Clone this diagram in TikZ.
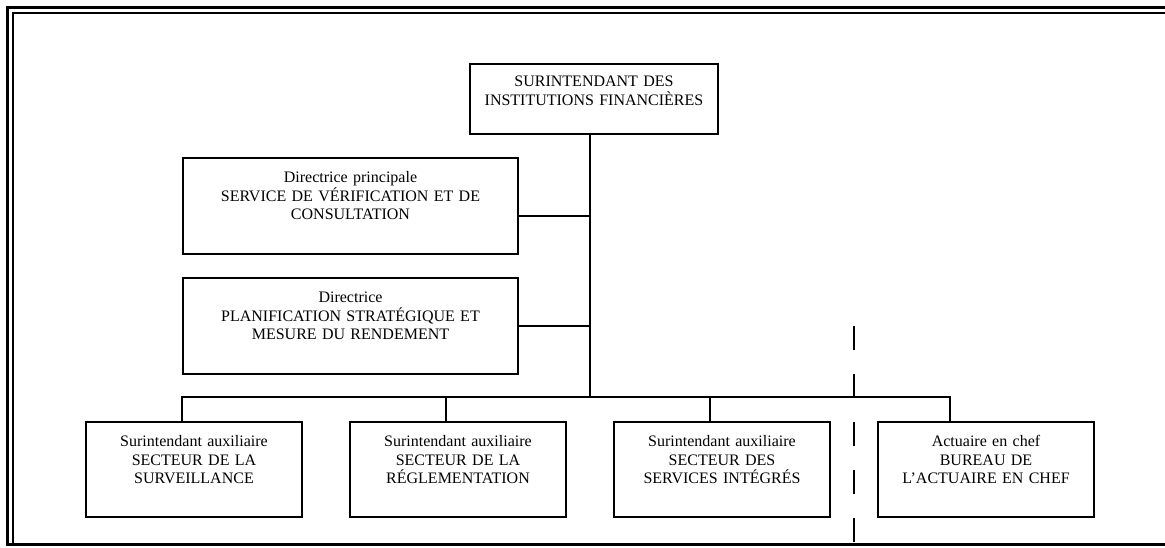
\documentclass[tikz,border=0pt]{standalone}
\usepackage{fontspec}
\setmainfont{Liberation Serif}
\usetikzlibrary{positioning,calc}
\tikzset{
  unitbox/.style = { draw, line width=1.5pt, inner sep=0pt, outer sep=0pt, align=center,
    font=\fontsize{12}{13.8}\selectfont, text height=18.75pt },
  topbox/.style  = { unitbox, anchor=north, text width=186pt, text height=17.25pt, text depth=35.25pt },
  dirbox/.style  = { unitbox, anchor=north, text width=251.25pt, text depth=53.25pt },
  secbox/.style  = { unitbox, anchor=north, text width=162pt, text depth=52.5pt },
  ln/.style      = { line width=1.5pt },
  divider/.style = { line width=1.5pt, dash pattern=on 18pt off 18pt }
}
\begin{document}
\begin{tikzpicture}[x=0.75pt,y=-0.75pt]
    \useasboundingbox (0,0) rectangle (1165,548);
    % frame
    \draw[line width=2.25pt] (7.5,545) -- (7.5,7.5) -- (1165,7.5);
    \draw[line width=1.5pt] (13,545) -- (13,13) -- (1165,13);
    \draw[line width=2.25pt] (6.4,545) -- (1165,545);

    \node[topbox] (sup) at (594,64) {SURINTENDANT DES\\INSTITUTIONS FINANCIÈRES};
    \node[dirbox] (dvc) at (350.5,158) {Directrice principale\\SERVICE DE VÉRIFICATION ET DE\\CONSULTATION};
    \node[dirbox, below=18pt of dvc] (dps) {Directrice\\PLANIFICATION STRATÉGIQUE ET\\MESURE DU RENDEMENT};

    \node[secbox] (ssv) at (194,422) {Surintendant auxiliaire\\SECTEUR DE LA\\SURVEILLANCE};
    \node[secbox, right=36pt of ssv] (srg) {Surintendant auxiliaire\\SECTEUR DE LA\\RÉGLEMENTATION};
    \node[secbox, right=36pt of srg] (ssi) {Surintendant auxiliaire\\SECTEUR DES\\SERVICES INTÉGRÉS};
    \node[secbox, right=36pt of ssi] (bac) {Actuaire en chef\\BUREAU DE\\L’ACTUAIRE EN CHEF};

    % trunk and bus
    \coordinate (bus) at (590,397);
    \draw[ln] (sup.south -| bus) -- (bus);
    \draw[ln] (dvc.east) ++(0,10) coordinate (dvcc) -- (dvcc -| bus);
    \draw[ln] (dps.east) -- (dps.east -| bus);
    \foreach \b/\f in {ssv/0.444, srg/0.444, ssi/0.444, bac/0.333}
      \coordinate (t\b) at ($(\b.north west)!\f!(\b.north east)$);
    \draw[ln] (tssv) -- (tssv |- bus) -- (tbac |- bus) -- (tbac);
    \draw[ln] (tsrg) -- (tsrg |- bus);
    \draw[ln] (tssi) -- (tssi |- bus);

    % dashed separator
    \coordinate (dvtop) at (854,326);
    \coordinate (dvbot) at (854,545);
    \draw[divider] (dvtop) -- (dvbot);
\end{tikzpicture}
\end{document}
